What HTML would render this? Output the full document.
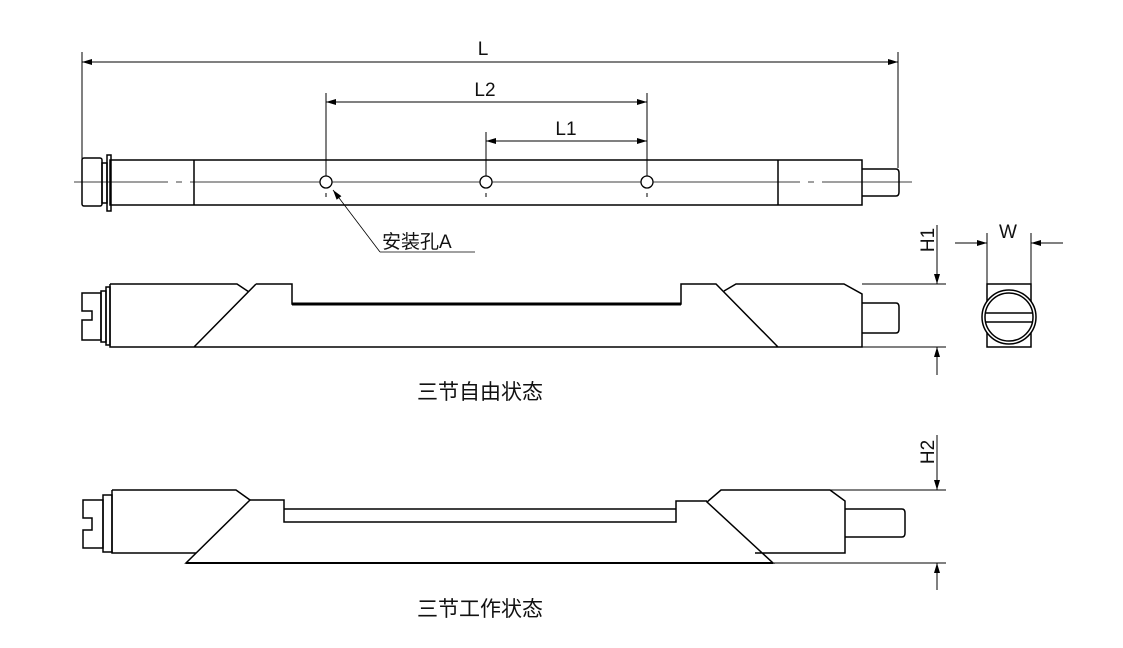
<!DOCTYPE html>
<html><head><meta charset="utf-8"><style>
html,body{margin:0;padding:0;background:#fff;width:1123px;height:648px;overflow:hidden}
svg{display:block}
text{font-family:"Liberation Sans","Noto Sans CJK SC",sans-serif;fill:#111}
</style></head><body>
<svg width="1123" height="648" viewBox="0 0 1123 648" xmlns="http://www.w3.org/2000/svg">
<defs>
<marker id="a" viewBox="0 0 10 6" refX="10" refY="3" markerWidth="16" markerHeight="6" markerUnits="userSpaceOnUse" orient="auto-start-reverse"><path d="M0,0L10,3L0,6z" fill="#000"/></marker>
</defs>
<g stroke="#000" stroke-width="1" fill="none">
<line x1="82" y1="52" x2="82" y2="160"/>
<line x1="898" y1="52" x2="898" y2="168"/>
<line x1="82" y1="62" x2="898" y2="62" marker-start="url(#a)" marker-end="url(#a)"/>
<line x1="326" y1="93" x2="326" y2="176"/>
<line x1="647" y1="93" x2="647" y2="176"/>
<line x1="486" y1="132" x2="486" y2="176"/>
<line x1="326" y1="102" x2="647" y2="102" marker-start="url(#a)" marker-end="url(#a)"/>
<line x1="486" y1="141" x2="647" y2="141" marker-start="url(#a)" marker-end="url(#a)"/>
<g stroke-width="1.5">
<rect x="110" y="160" width="752" height="45"/>
<rect x="82" y="158" width="20" height="48" rx="2"/>
<rect x="102" y="163" width="5" height="40"/>
<rect x="107" y="155" width="4" height="56"/>
<line x1="194" y1="160" x2="194" y2="205"/>
<line x1="778" y1="160" x2="778" y2="205"/>
<path d="M862,169H896Q899,169 899,173V192Q899,196 896,196H862"/>
</g>
<path d="M74,182H168M176,182H182M190,182H320M332,182H480M492,182H641M653,182H800M808,182H814M822,182H912" stroke-width="0.8"/>
<circle cx="326" cy="182" r="6" stroke-width="1.3"/>
<circle cx="486" cy="182" r="6" stroke-width="1.3"/>
<circle cx="647" cy="182" r="6" stroke-width="1.3"/>
<line x1="326" y1="193" x2="326" y2="197"/><line x1="486" y1="193" x2="486" y2="197"/><line x1="647" y1="193" x2="647" y2="197"/>
<line x1="380" y1="252" x2="333" y2="190" marker-end="url(#a)" stroke-width="0.8"/>
<line x1="380" y1="252" x2="475" y2="252" stroke-width="0.8"/>
<g stroke-width="1.5">
<path d="M110,284H237L249,292M256,284H292V304H681V284H716L778,347M256,284L194,347M724,291L736,284H844L862,294V347H110V284"/>
<path d="M82,293H101V340H82V320H92V311H82Z"/>
<rect x="101" y="291" width="5" height="51"/>
<rect x="106" y="287" width="4" height="58"/>
<path d="M862,303H896Q899,303 899,307V329Q899,333 896,333H862"/>
<line x1="292" y1="304" x2="681" y2="304" stroke-width="3"/>
</g>
<line x1="862" y1="284" x2="946" y2="284"/>
<line x1="862" y1="347" x2="946" y2="347"/>
<line x1="937" y1="225" x2="937" y2="284" marker-end="url(#a)"/>
<line x1="937" y1="375" x2="937" y2="347" marker-end="url(#a)"/>
<g stroke-width="1.5">
<rect x="987" y="284" width="44" height="63"/>
<circle cx="1009" cy="317" r="27" fill="#fff"/>
<circle cx="1009" cy="317" r="24"/>
<line x1="985" y1="313" x2="1033" y2="313"/><line x1="985" y1="322" x2="1033" y2="322"/>
</g>
<line x1="987" y1="233" x2="987" y2="284"/>
<line x1="1031" y1="233" x2="1031" y2="284"/>
<line x1="955" y1="243" x2="987" y2="243" marker-end="url(#a)"/>
<line x1="1063" y1="243" x2="1031" y2="243" marker-end="url(#a)"/>
<g stroke-width="1.5">
<path d="M112,490H236L250,500L186,563H773L707,502L721,490H830L845,501V553H755"/>
<path d="M250,500H284V522H676V501H707"/>
<line x1="284" y1="509" x2="676" y2="509"/>
<path d="M112,490V553H196"/>
<path d="M83,500H103V548H83V530H92V518H83Z"/>
<rect x="103" y="495" width="9" height="57"/>
<path d="M845,509H902Q905,509 905,513V533Q905,537 902,537H845"/>
<line x1="186" y1="563" x2="773" y2="563" stroke-width="2"/>
</g>
<line x1="830" y1="490" x2="946" y2="490"/>
<line x1="773" y1="563" x2="946" y2="563"/>
<line x1="937" y1="435" x2="937" y2="490" marker-end="url(#a)"/>
<line x1="937" y1="590" x2="937" y2="563" marker-end="url(#a)"/>
</g>
<text x="483" y="55" font-size="19" text-anchor="middle">L</text>
<text x="485" y="96" font-size="19" text-anchor="middle">L2</text>
<text x="566" y="135" font-size="19" text-anchor="middle">L1</text>
<text x="382" y="248" font-size="19">安装孔A</text>
<text x="1008" y="238" font-size="19" text-anchor="middle">W</text>
<text transform="translate(934,240) rotate(-90)" font-size="19" text-anchor="middle">H1</text>
<text transform="translate(934,452) rotate(-90)" font-size="19" text-anchor="middle">H2</text>
<text x="480" y="399" font-size="21" text-anchor="middle">三节自由状态</text>
<text x="480" y="616" font-size="21" text-anchor="middle">三节工作状态</text>
</svg>
</body></html>
